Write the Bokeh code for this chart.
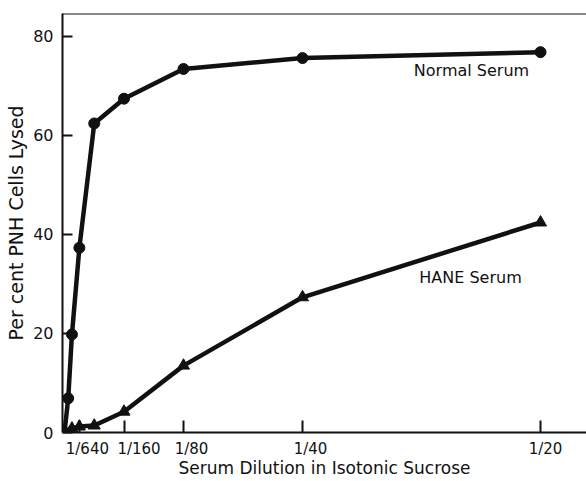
from bokeh.plotting import figure
from bokeh.models import FixedTicker, Label, Range1d, Span, LinearAxis
from bokeh.embed import file_html
from bokeh.resources import INLINE

# ---- data -------------------------------------------------------------
normal_x = [0, 1/2560, 1/1280, 1/640, 1/320, 1/160, 1/80, 1/40, 1/20]
normal_y = [0, 6.9, 19.8, 37.3, 62.4, 67.4, 73.4, 75.6, 76.8]

hane_x = [0, 1/1280, 1/640, 1/320, 1/160, 1/80, 1/40, 1/20]
hane_y = [0, 0.8, 1.2, 1.4, 4.2, 13.5, 27.3, 42.4]

x_tick_values = [1/640, 1/160, 1/80, 1/40, 1/20]
x_tick_labels = ["1/640", "1/160", "1/80", "1/40", "1/20"]
y_tick_values = [0, 20, 40, 60, 80]

series_names = ["Normal Serum", "HANE Serum"]
series_label_pos = [(0.04275, 73.1), (0.04265, 31.3)]

# ---- styles / layout ----------------------------------------------------
FONT = "DejaVu Sans"
INK = "#111111"
W, H = 586, 481
BORDER_L, BORDER_T, BORDER_B = 62, 13, 49
X_START, X_END = -0.00021, 0.05483
label_shift_px = [8, 15, 8, 8, 5]   # tick labels sit a little right of ticks

px_per_unit = (W - BORDER_L) / (X_END - X_START)
label_positions = [v + s / px_per_unit for v, s in zip(x_tick_values, label_shift_px)]

p = figure(width=W, height=H,
           x_range=Range1d(X_START, X_END), y_range=Range1d(0, 84.6),
           output_backend="svg", toolbar_location=None,
           min_border_left=BORDER_L, min_border_right=0,
           min_border_top=BORDER_T, min_border_bottom=BORDER_B)
p.grid.visible = False
p.outline_line_color = None
p.background_fill_color = "white"
p.border_fill_color = "white"

# left axis
ya = p.yaxis[0]
ya.ticker = FixedTicker(ticks=y_tick_values)
ya.major_tick_in = 10
ya.major_tick_out = 0
ya.minor_tick_line_color = None
ya.axis_line_width = 2
ya.major_tick_line_width = 2
ya.axis_line_color = INK
ya.major_tick_line_color = INK
ya.major_label_text_font = FONT
ya.major_label_text_font_size = "16px"
ya.major_label_text_color = INK
ya.major_label_standoff = 9
ya.axis_label = "Per cent PNH Cells Lysed"
ya.axis_label_text_font = FONT
ya.axis_label_text_font_size = "19px"
ya.axis_label_text_font_style = "normal"
ya.axis_label_text_color = INK
ya.axis_label_standoff = 3

# bottom axis: line and inward ticks only
xa = p.xaxis[0]
xa.ticker = FixedTicker(ticks=x_tick_values)
xa.major_tick_in = 12
xa.major_tick_out = 0
xa.minor_tick_line_color = None
xa.axis_line_width = 2
xa.major_tick_line_width = 2
xa.axis_line_color = INK
xa.major_tick_line_color = INK
xa.major_label_text_color = None
xa.major_label_standoff = 0

# second bottom axis carrying the tick labels and the title
lab_axis = LinearAxis(ticker=FixedTicker(ticks=label_positions),
                      major_label_overrides=dict(zip(label_positions, x_tick_labels)),
                      axis_line_color=None, major_tick_line_color=None,
                      minor_tick_line_color=None, major_tick_in=0, major_tick_out=0,
                      major_label_text_font=FONT, major_label_text_font_size="15px",
                      major_label_text_color=INK, major_label_standoff=7,
                      axis_label="Serum Dilution in Isotonic Sucrose",
                      axis_label_text_font=FONT, axis_label_text_font_size="17px",
                      axis_label_text_font_style="normal", axis_label_text_color=INK,
                      axis_label_standoff=-3)
p.add_layout(lab_axis, "below")

# top border of the frame
p.add_layout(Span(location=p.y_range.end, dimension="width",
                  line_color=INK, line_width=2))

# curves
p.line(normal_x, normal_y, line_width=4.5, line_color=INK, line_join="round")
p.scatter(normal_x, normal_y, marker="circle", size=11, fill_color=INK,
          line_color=INK)
p.line(hane_x, hane_y, line_width=4.5, line_color=INK, line_join="round")
p.scatter(hane_x, hane_y, marker="triangle", size=12, fill_color=INK,
          line_color=INK)

# series labels
for name, (lx, ly) in zip(series_names, series_label_pos):
    p.add_layout(Label(x=lx, y=ly, text=name, text_align="center",
                       text_baseline="middle", text_font=FONT,
                       text_font_size="16px", text_color=INK))

open("out.html", "w").write(file_html(p, INLINE))
